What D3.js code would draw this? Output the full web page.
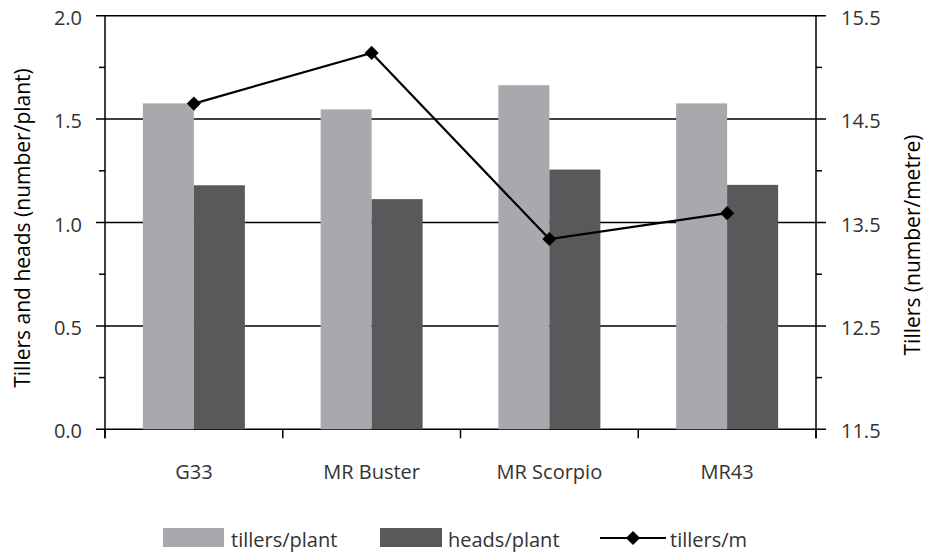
<!DOCTYPE html>
<html><head><meta charset="utf-8">
<script src="https://cdn.jsdelivr.net/npm/d3@7"></script>
<style>
html,body{margin:0;padding:0;background:#fff;}
text{font-family:"Open Sans",sans-serif;}
</style></head>
<body><svg id="c" width="937" height="553"></svg>
<script>
const categories = ["G33", "MR Buster", "MR Scorpio", "MR43"];
const tillersPerPlant = [1.576, 1.547, 1.664, 1.576];
const headsPerPlant = [1.18, 1.113, 1.256, 1.182];
const tillersPerMetre = [14.65, 15.14, 13.34, 13.59];
const leftTicks = [0, 0.5, 1.0, 1.5, 2.0];
const rightTicks = [11.5, 12.5, 13.5, 14.5, 15.5];
const seriesNames = ["tillers/plant", "heads/plant", "tillers/m"];

const svg = d3.select("#c");
const L = 105, R = 816, T = 15.7, B = 429.3;
const x = d3.scaleBand().domain(categories).range([L, R]).paddingInner(0).paddingOuter(0);
const yL = d3.scaleLinear().domain([0, 2]).range([B, T]);
const yR = d3.scaleLinear().domain([11.5, 15.5]).range([B, T]);
const bw = 51;
const textCol = "#333";
const fs = 20;

// gridlines
svg.append("g").selectAll("line").data(leftTicks).join("line")
  .attr("x1", L - 9).attr("x2", R + 10)
  .attr("y1", d => yL(d)).attr("y2", d => yL(d))
  .attr("stroke", "#000").attr("stroke-width", 1.5);

// bars
const cx = c => x(c) + x.bandwidth() / 2;
svg.append("g").selectAll("rect").data(categories).join("rect")
  .attr("x", c => cx(c) - bw).attr("width", bw)
  .attr("y", (c, i) => yL(tillersPerPlant[i])).attr("height", (c, i) => B - yL(tillersPerPlant[i]))
  .attr("fill", "#a7a9ac");
svg.append("g").selectAll("rect").data(categories).join("rect")
  .attr("x", c => cx(c)).attr("width", bw)
  .attr("y", (c, i) => yL(headsPerPlant[i])).attr("height", (c, i) => B - yL(headsPerPlant[i]))
  .attr("fill", "#58595b");

// axes lines
const ax = svg.append("g").attr("stroke", "#000").attr("stroke-width", 1.5);
ax.append("line").attr("x1", L).attr("x2", L).attr("y1", T).attr("y2", B + 9);
ax.append("line").attr("x1", R).attr("x2", R).attr("y1", T).attr("y2", B + 9);
// minor ticks
const minorL = d3.range(0.25, 2, 0.5);
ax.selectAll(".ml").data(minorL).join("line")
  .attr("x1", L - 6).attr("x2", L).attr("y1", d => yL(d)).attr("y2", d => yL(d));
const minorR = d3.range(12, 15.5, 1);
ax.selectAll(".mr").data(minorR).join("line")
  .attr("x1", R).attr("x2", R + 6).attr("y1", d => yR(d)).attr("y2", d => yR(d));
// category boundary ticks
const bounds = categories.map(c => x(c)).concat([R]);
ax.selectAll(".ct").data(bounds).join("line")
  .attr("x1", d => d).attr("x2", d => d).attr("y1", B).attr("y2", B + 9);

// tick labels
svg.append("g").selectAll("text").data(leftTicks).join("text")
  .attr("x", 82).attr("y", d => yL(d) + 2).attr("dy", "0.35em")
  .attr("text-anchor", "end").attr("fill", textCol).attr("font-size", fs)
  .text(d => d.toFixed(1));
svg.append("g").selectAll("text").data(rightTicks).join("text")
  .attr("x", 841).attr("y", d => yR(d) + 2).attr("dy", "0.35em")
  .attr("text-anchor", "start").attr("fill", textCol).attr("font-size", fs)
  .text(d => d.toFixed(1));
svg.append("g").selectAll("text").data(categories).join("text")
  .attr("x", c => cx(c)).attr("y", 479)
  .attr("text-anchor", "middle").attr("fill", textCol).attr("font-size", fs)
  .text(c => c);

// axis titles
svg.append("text").attr("transform", "translate(30,228) rotate(-90)")
  .attr("text-anchor", "middle").attr("fill", "#000").attr("font-size", 21)
  .text("Tillers and heads (number/plant)");
svg.append("text").attr("transform", "translate(920,245) rotate(-90)")
  .attr("text-anchor", "middle").attr("fill", "#000").attr("font-size", 21)
  .text("Tillers (number/metre)");

// line
const line = d3.line().x((d, i) => cx(categories[i])).y(d => yR(d));
svg.append("path").datum(tillersPerMetre).attr("d", line)
  .attr("fill", "none").attr("stroke", "#000").attr("stroke-width", 2.2);
const diamond = d3.symbol().type(d3.symbolSquare).size(100);
svg.append("g").selectAll("path").data(tillersPerMetre).join("path")
  .attr("d", diamond)
  .attr("transform", (d, i) => `translate(${cx(categories[i])},${yR(d)}) rotate(45)`)
  .attr("fill", "#000");

// legend
const lg = svg.append("g");
lg.append("rect").attr("x", 163).attr("y", 528).attr("width", 61).attr("height", 19).attr("fill", "#a7a9ac");
lg.append("text").attr("x", 231).attr("y", 547).attr("fill", textCol).attr("font-size", fs).text(seriesNames[0]);
lg.append("rect").attr("x", 380).attr("y", 528).attr("width", 62).attr("height", 19).attr("fill", "#58595b");
lg.append("text").attr("x", 448).attr("y", 547).attr("fill", textCol).attr("font-size", fs).text(seriesNames[1]);
lg.append("line").attr("x1", 600).attr("x2", 666).attr("y1", 538).attr("y2", 538).attr("stroke", "#000").attr("stroke-width", 2.2);
lg.append("path").attr("d", diamond).attr("transform", "translate(633,538) rotate(45)").attr("fill", "#000");
lg.append("text").attr("x", 670).attr("y", 547).attr("fill", textCol).attr("font-size", fs).text(seriesNames[2]);
</script></body></html>
